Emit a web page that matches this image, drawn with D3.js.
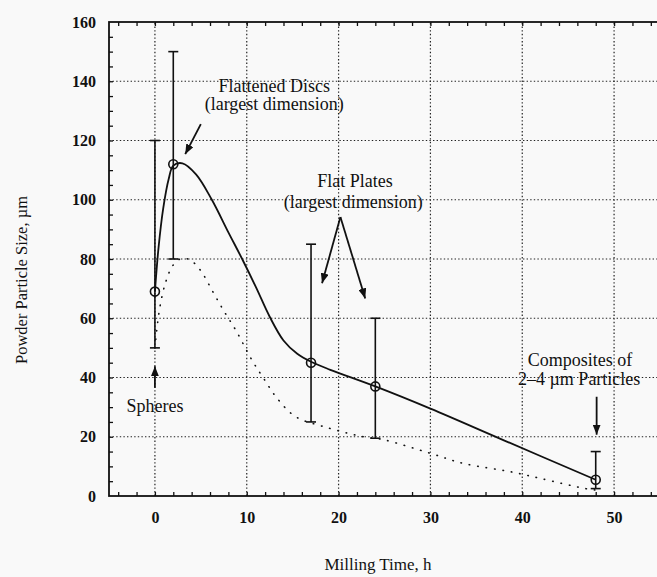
<!DOCTYPE html>
<html>
<head>
<meta charset="utf-8">
<script src="https://cdn.jsdelivr.net/npm/d3@7"></script>
<style>
  html, body { margin: 0; padding: 0; background: #f9f9f9; }
  svg { display: block; }
  text { font-family: "Liberation Serif", "Times New Roman", serif; fill: #111; }
</style>
</head>
<body>
<div id="container"></div>
<script>
// Measured points with error bars (milling time in h, size in um)
const times = [0, 2, 17, 24, 48];
const sizes = [69, 112, 45, 37, 5.5];
const errLow = [50, 80, 25, 19.5, 2.5];
const errHigh = [120, 150, 85, 60, 15];

// Hand drawn fit through the points (solid line)
const fitTimes = [0, 0.4, 0.9, 1.5, 2, 3, 4.5, 6.2, 8, 9.5, 11, 12.5, 14, 15.5, 17, 19.1, 24, 30, 38, 48];
const fitSizes = [69, 84, 97, 107, 111.5, 112.3, 108.5, 100, 89, 80, 70.5, 60.5, 52.5, 48, 45.3, 42.6, 37, 29.5, 18.8, 5.5];

// Lower dotted curve
const lowTimes = [0, 0.5, 1.2, 2, 3, 4, 5, 6.3, 7.5, 8.8, 10.6, 11.9, 13.3, 15.3, 18.4, 22.7, 24.9, 30, 33.6, 38.7, 41.9, 46.7, 48];
const lowSizes = [50, 63, 72.5, 78, 80.3, 79.3, 76, 69, 62.5, 56, 45.7, 39.4, 33, 26.8, 23.4, 20, 19, 14.4, 11, 8.2, 6, 2.6, 2];

// Axis ticks
const xTicks = [0, 10, 20, 30, 40, 50];
const yTicks = [0, 20, 40, 60, 80, 100, 120, 140, 160];
const xMinor = d3.range(-4, 55, 2);
const yMinor = d3.range(5, 160, 5);

// Annotations: text lines placed at [time, size], arrows from -> to
const noteLabels = ['Flattened Discs', '(largest dimension)', 'Flat Plates', '(largest dimension)',
  'Spheres', 'Composites of', '2–4 µm Particles'];
const noteTimes = [13, 13, 21.8, 21.6, 0, 46.3, 46.2];
const noteSizes = [136.4, 130.2, 104.2, 97.1, 28.5, 44.0, 37.6];
const arrowFrom = [[5, 125.5], [20.2, 94.2], [20.2, 94.2], [48.1, 33.5], [0, 36.5]];
const arrowTo = [[3.3, 115.4], [18.2, 71.8], [22.9, 66.7], [48.1, 20.7], [0, 43.8]];

const W = 657, H = 577;
const svg = d3.select('#container').append('svg')
  .attr('width', W)
  .attr('height', H);

svg.append('rect').attr('width', W).attr('height', H).attr('fill', '#f9f9f9');

const x = d3.scaleLinear().domain([-5, 55]).range([109, 660]);
const y = d3.scaleLinear().domain([0, 160]).range([496, 22]);

// arrow head marker
svg.append('defs').append('marker')
  .attr('id', 'head')
  .attr('viewBox', '0 0 10 8')
  .attr('refX', 10).attr('refY', 4)
  .attr('markerWidth', 10).attr('markerHeight', 8)
  .attr('markerUnits', 'userSpaceOnUse')
  .attr('orient', 'auto')
  .append('path')
  .attr('d', 'M0,0 L10,4 L0,8 Z')
  .attr('fill', '#111');

// dotted grid
const grid = svg.append('g')
  .attr('stroke', '#222')
  .attr('stroke-width', 1.2)
  .attr('stroke-dasharray', '1.4,2.2');
grid.selectAll('line.gx')
  .data(xTicks)
  .enter().append('line')
    .attr('x1', d => x(d)).attr('x2', d => x(d))
    .attr('y1', y(0)).attr('y2', y(160));
grid.selectAll('line.gy')
  .data(yTicks.slice(1, -1))
  .enter().append('line')
    .attr('x1', x(-5)).attr('x2', x(55))
    .attr('y1', d => y(d)).attr('y2', d => y(d));

// minor ticks, inside the frame
svg.append('g')
  .attr('transform', `translate(0,${y(0)})`)
  .call(d3.axisBottom(x).tickValues(xMinor).tickSize(-4).tickFormat(''))
  .call(g => g.select('.domain').remove())
  .selectAll('line').attr('stroke', '#111').attr('stroke-width', 1.3);
svg.append('g')
  .attr('transform', `translate(0,${y(160)})`)
  .call(d3.axisTop(x).tickValues(xMinor).tickSize(-4).tickFormat(''))
  .call(g => g.select('.domain').remove())
  .selectAll('line').attr('stroke', '#111').attr('stroke-width', 1.3);
svg.append('g')
  .attr('transform', `translate(${x(-5)},0)`)
  .call(d3.axisLeft(y).tickValues(yMinor).tickSize(-4).tickFormat(''))
  .call(g => g.select('.domain').remove())
  .selectAll('line').attr('stroke', '#111').attr('stroke-width', 1.3);

// frame
svg.append('rect')
  .attr('x', x(-5)).attr('y', y(160))
  .attr('width', x(55) - x(-5)).attr('height', y(0) - y(160))
  .attr('fill', 'none')
  .attr('stroke', '#111')
  .attr('stroke-width', 1.8);

// tick labels
const xAxis = svg.append('g')
  .attr('transform', `translate(0,${y(0)})`)
  .call(d3.axisBottom(x).tickValues(xTicks).tickSize(0).tickPadding(16));
xAxis.select('.domain').remove();
xAxis.selectAll('text')
  .style('font-family', '"Liberation Serif", serif')
  .style('font-weight', 'bold')
  .style('font-size', '16px')
  .attr('fill', '#111');

const yAxis = svg.append('g')
  .attr('transform', `translate(${x(-5)},0)`)
  .call(d3.axisLeft(y).tickValues(yTicks).tickSize(0).tickPadding(13));
yAxis.select('.domain').remove();
yAxis.selectAll('text')
  .style('font-family', '"Liberation Serif", serif')
  .style('font-weight', 'bold')
  .style('font-size', '16px')
  .attr('fill', '#111');

// axis titles
svg.append('text')
  .attr('x', 378).attr('y', 570)
  .attr('text-anchor', 'middle')
  .style('font-size', '17px')
  .text('Milling Time, h');

svg.append('text')
  .attr('transform', 'translate(27,280) rotate(-90)')
  .attr('text-anchor', 'middle')
  .style('font-size', '16.5px')
  .text('Powder Particle Size, µm');

const line = d3.line()
  .x(d => x(d[0]))
  .y(d => y(d[1]))
  .curve(d3.curveCatmullRom.alpha(0.5));

// lower dotted curve
const lowData = lowTimes.map((t, i) => [t, lowSizes[i]]);
svg.append('path')
  .datum(lowData)
  .attr('fill', 'none')
  .attr('stroke', '#111')
  .attr('stroke-width', 1.6)
  .attr('stroke-linecap', 'round')
  .attr('stroke-dasharray', '0.5,8')
  .attr('d', line);

// solid fitted curve
const fitData = fitTimes.map((t, i) => [t, fitSizes[i]]);
svg.append('path')
  .datum(fitData)
  .attr('fill', 'none')
  .attr('stroke', '#111')
  .attr('stroke-width', 1.8)
  .attr('d', line);

// error bars
const pts = times.map((t, i) => ({ t, v: sizes[i], lo: errLow[i], hi: errHigh[i] }));
const bars = svg.append('g')
  .attr('stroke', '#111')
  .attr('stroke-width', 1.6)
  .selectAll('g')
  .data(pts)
  .enter().append('g');
bars.append('line')
  .attr('x1', d => x(d.t)).attr('x2', d => x(d.t))
  .attr('y1', d => y(d.lo)).attr('y2', d => y(d.hi));
bars.append('line')
  .attr('x1', d => x(d.t) - 5).attr('x2', d => x(d.t) + 5)
  .attr('y1', d => y(d.hi)).attr('y2', d => y(d.hi));
bars.append('line')
  .attr('x1', d => x(d.t) - 5).attr('x2', d => x(d.t) + 5)
  .attr('y1', d => y(d.lo)).attr('y2', d => y(d.lo));

// open circle markers
svg.append('g')
  .selectAll('circle')
  .data(pts)
  .enter().append('circle')
    .attr('cx', d => x(d.t))
    .attr('cy', d => y(d.v))
    .attr('r', 4.5)
    .attr('fill', 'none')
    .attr('stroke', '#111')
    .attr('stroke-width', 1.6);

// annotation texts and arrows
svg.append('g')
  .selectAll('text')
  .data(noteLabels)
  .enter().append('text')
    .attr('x', (d, i) => x(noteTimes[i]))
    .attr('y', (d, i) => y(noteSizes[i]))
    .attr('text-anchor', 'middle')
    .style('font-size', '18px')
    .text(d => d);

svg.append('g')
  .selectAll('line')
  .data(arrowFrom)
  .enter().append('line')
    .attr('x1', d => x(d[0])).attr('y1', d => y(d[1]))
    .attr('x2', (d, i) => x(arrowTo[i][0])).attr('y2', (d, i) => y(arrowTo[i][1]))
    .attr('stroke', '#111')
    .attr('stroke-width', 1.8)
    .attr('marker-end', 'url(#head)');
</script>
</body>
</html>
